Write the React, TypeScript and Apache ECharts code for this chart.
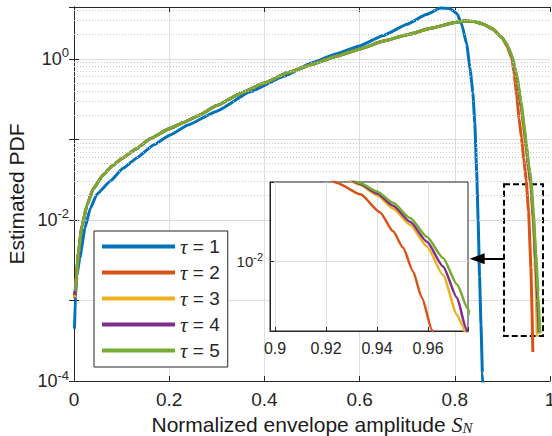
import React, { useEffect, useRef } from "react";
import * as echarts from "echarts";

type Pt = [number, number];

const FONT = '"Liberation Sans", Arial, Helvetica, sans-serif';
const SERIF = '"Liberation Serif", "Times New Roman", serif';
const INK = "#262626";

const seriesNames = ["τ = 1", "τ = 2", "τ = 3", "τ = 4", "τ = 5"];
const seriesColors = ["#0072BD", "#D95319", "#EDB120", "#7E2F8E", "#77AC30"];

// axis / tick data
const xMin = 0;
const xMax = 1;
const xStep = 0.2;
const yMin = 1e-4;
const yMax = 4.4;
const yLabelExponents = [-4, -2, 0];
const insetXMin = 0.898;
const insetXMax = 0.9757;
const insetXTicks = [0.9, 0.92, 0.94, 0.96];
const insetYMin = 0.00186;
const insetYMax = 0.0692;
const insetYLabelExponents = [-2];
const insetMinorY = [0.03162, 0.003162];

// zoom box (data coordinates of the main axes) and arrow
const zoomBoxX = [0.9034, 0.9853];
const zoomBoxY = [0.0278, 0.000363];
const arrowX = [0.9034, 0.847];
const arrowY = 0.0033;

// tau = 1
const tau1: Pt[] = [
  [0.001, 0.000447], [0.003, 0.00112], [0.006, 0.002], [0.012, 0.00331],
  [0.023, 0.00794], [0.034, 0.0138], [0.048, 0.0209], [0.076, 0.0302],
  [0.103, 0.0437], [0.132, 0.0589], [0.167, 0.0851], [0.2, 0.112],
  [0.24, 0.151], [0.3, 0.224], [0.37, 0.389], [0.44, 0.603],
  [0.5, 0.891], [0.55, 1.148], [0.6, 1.445], [0.65, 1.95],
  [0.7, 2.692], [0.74, 3.548], [0.77, 4.266], [0.79, 4.217],
  [0.805, 3.631], [0.815, 2.63], [0.825, 1.514], [0.832, 0.759],
  [0.838, 0.38], [0.842, 0.158], [0.846, 0.0398], [0.849, 0.01],
  [0.852, 0.002], [0.855, 0.000501], [0.858, 0.000126], [0.86, 0.0000631],
];

// common body of tau = 2..5 (curves overlap up to x = 0.9)
const bodyTau25: Pt[] = [
  [0.003, 0.00141], [0.005, 0.002], [0.009, 0.0038], [0.016, 0.00794],
  [0.027, 0.0151], [0.04, 0.024], [0.06, 0.0355], [0.08, 0.0468],
  [0.1, 0.0575], [0.13, 0.0759], [0.16, 0.102], [0.2, 0.135],
  [0.23, 0.162], [0.26, 0.195], [0.3, 0.263], [0.35, 0.372],
  [0.4, 0.501], [0.45, 0.676], [0.5, 0.851], [0.55, 1.072],
  [0.6, 1.318], [0.65, 1.66], [0.7, 1.995], [0.75, 2.399],
  [0.8, 2.818], [0.82, 2.951], [0.84, 2.917], [0.86, 2.692],
  [0.88, 2.344], [0.9, 1.82],
];

const tau2: Pt[] = [
  [0.001, 0.00107], ...bodyTau25,
  [0.91, 1.413], [0.92, 1.0], [0.925, 0.631], [0.93, 0.355], [0.935, 0.182],
  [0.94, 0.105], [0.945, 0.0562], [0.95, 0.0316], [0.955, 0.0126],
  [0.96, 0.00251], [0.964, 0.000229],
];
const tau3: Pt[] = [
  [0.001, 0.0011], ...bodyTau25,
  [0.91, 1.479], [0.92, 1.047], [0.93, 0.575], [0.94, 0.24], [0.945, 0.132],
  [0.95, 0.0759], [0.955, 0.0417], [0.96, 0.024], [0.965, 0.0089],
  [0.97, 0.002], [0.973, 0.000355],
];
const tau4: Pt[] = [
  [0.001, 0.00117], ...bodyTau25,
  [0.91, 1.479], [0.92, 1.072], [0.93, 0.603], [0.94, 0.251], [0.945, 0.145],
  [0.95, 0.0832], [0.955, 0.0457], [0.96, 0.0275], [0.965, 0.0107],
  [0.97, 0.00316], [0.974, 0.001], [0.977, 0.000398],
];
const tau5: Pt[] = [
  [0.001, 0.00132], ...bodyTau25,
  [0.91, 1.479], [0.92, 1.096], [0.93, 0.631], [0.94, 0.275], [0.945, 0.158],
  [0.95, 0.0891], [0.955, 0.0501], [0.96, 0.0316], [0.965, 0.0126],
  [0.97, 0.00398], [0.975, 0.00126], [0.979, 0.000389],
];

// inset (zoomed) readings
const insetTau2: Pt[] = [
  [0.922, 0.0741], [0.9243, 0.0676], [0.9335, 0.0513], [0.9412, 0.0331],
  [0.9463, 0.0209], [0.9502, 0.0141], [0.9541, 0.00794], [0.9576, 0.00417],
  [0.9616, 0.00191], [0.963, 0.00141],
];
const insetTau3: Pt[] = [
  [0.928, 0.0759], [0.9333, 0.0646], [0.94, 0.0501], [0.9463, 0.0363],
  [0.953, 0.0245], [0.9596, 0.01445], [0.9659, 0.00724], [0.9714, 0.00275],
  [0.9737, 0.00209], [0.975, 0.00158],
];
const insetTau4: Pt[] = [
  [0.929, 0.0759], [0.9333, 0.0661], [0.94, 0.0525], [0.9463, 0.0389],
  [0.953, 0.0263], [0.9596, 0.0162], [0.9659, 0.00891], [0.9714, 0.00417],
  [0.9749, 0.002], [0.976, 0.00158],
];
const insetTau5: Pt[] = [
  [0.93, 0.0759], [0.9333, 0.0676], [0.94, 0.055], [0.9463, 0.0417],
  [0.953, 0.0288], [0.9596, 0.0182], [0.9659, 0.01096], [0.9714, 0.00575],
  [0.9757, 0.00316], [0.978, 0.00219],
];

const mainData = [tau1, tau2, tau3, tau4, tau5];
const insetData = [insetTau2, insetTau3, insetTau4, insetTau5];

function minorLogValues(lo: number, hi: number): number[] {
  const out: number[] = [];
  for (let d = Math.floor(Math.log10(lo)); d <= Math.ceil(Math.log10(hi)); d++) {
    for (let k = 2; k <= 9; k++) {
      const v = k * Math.pow(10, d);
      if (v > lo && v < hi) out.push(v);
    }
  }
  return out;
}

function powLabel(exps: number[]) {
  return (v: number) => {
    const e = Math.log10(v);
    const r = Math.round(e);
    if (Math.abs(e - r) > 1e-6 || exps.indexOf(r) < 0) return "";
    return `{b|10}{e|${r}}`;
  };
}

function buildOption(): any {
  const minorMain = minorLogValues(yMin, yMax);
  const mainSeries = mainData.map((d, i) => ({
    name: seriesNames[i],
    type: "line",
    xAxisIndex: 0,
    yAxisIndex: 0,
    data: d,
    symbol: "none",
    showSymbol: false,
    smooth: 0.12,
    smoothMonotone: "x",
    clip: true,
    color: seriesColors[i],
    itemStyle: { color: seriesColors[i] },
    lineStyle: { color: seriesColors[i], width: 3 },
    z: 2,
    silent: true,
  }));
  const insetSeries = insetData.map((d, i) => ({
    name: "inset " + seriesNames[i + 1],
    type: "line",
    xAxisIndex: 2,
    yAxisIndex: 2,
    data: d,
    symbol: "none",
    showSymbol: false,
    smooth: 0.2,
    smoothMonotone: "x",
    clip: true,
    itemStyle: { color: seriesColors[i + 1] },
    lineStyle: { color: seriesColors[i + 1], width: 2.5 },
    z: 12,
    silent: true,
  }));

  return {
    animation: false,
    backgroundColor: "#ffffff",
    textStyle: { fontFamily: FONT },
    grid: [
      { left: 74, right: 2, top: 7, bottom: 55, show: false, outerBoundsMode: "none", containLabel: false },
      {
        left: 270, top: 182, width: 198, height: 149, show: true,
        backgroundColor: "#ffffff", borderColor: INK, borderWidth: 1, z: 10,
        outerBoundsMode: "none", containLabel: false,
      },
    ],
    legend: {
      data: seriesNames,
      orient: "vertical",
      left: 94,
      top: 231,
      itemWidth: 73,
      itemHeight: 4,
      itemGap: 5,
      icon: "rect",
      padding: [5, 8, 6, 8],
      borderColor: INK,
      borderWidth: 1,
      backgroundColor: "#ffffff",
      selectedMode: false,
      z: 20,
      formatter: (name: string) => `{t|τ}{n|${name.slice(1)}}`,
      textStyle: {
        fontSize: 19,
        lineHeight: 20,
        color: INK,
        rich: {
          t: { fontFamily: SERIF, fontStyle: "italic", fontSize: 21, color: INK },
          n: { fontFamily: FONT, fontSize: 19, color: INK },
        },
      },
    },
    xAxis: [
      {
        type: "value", gridIndex: 0, position: "bottom", min: xMin, max: xMax, interval: xStep,
        axisLine: { show: true, onZero: false, lineStyle: { color: INK, width: 1 } },
        axisTick: { show: true, inside: true, length: 5, lineStyle: { color: INK } },
        axisLabel: { fontSize: 19, margin: 9, color: INK, fontFamily: FONT },
        splitLine: { show: true, showMinLine: false, showMaxLine: false, lineStyle: { color: "#dedede", width: 1 } },
        name: "Normalized envelope amplitude {i|S}{s|N}",
        nameLocation: "middle",
        nameGap: 26,
        nameTextStyle: {
          fontSize: 21, color: "#1a1a1a", fontFamily: FONT,
          rich: {
            i: { fontSize: 22, fontFamily: SERIF, fontStyle: "italic", color: "#1a1a1a" },
            s: { fontSize: 15, fontFamily: SERIF, fontStyle: "italic", color: "#1a1a1a", padding: [7, 0, 0, 0] },
          },
        },
      },
      {
        type: "value", gridIndex: 0, position: "top", min: xMin, max: xMax, interval: xStep,
        axisLine: { show: true, onZero: false, lineStyle: { color: INK, width: 1 } },
        axisTick: { show: true, inside: true, length: 5, lineStyle: { color: INK } },
        axisLabel: { show: false },
        splitLine: { show: false },
      },
      {
        type: "value", gridIndex: 1, position: "bottom", min: insetXMin, max: insetXMax, splitNumber: 4,
        z: 11,
        axisLine: { show: true, onZero: false, lineStyle: { color: INK, width: 1 } },
        axisTick: { show: true, inside: true, length: 4, lineStyle: { color: INK } },
        axisLabel: {
          fontSize: 16, margin: 9, color: INK, fontFamily: FONT,
          formatter: (v: number) => {
            const t = insetXTicks.find((k) => Math.abs(k - v) < 1e-6);
            return t === undefined ? "" : String(t);
          },
        },
        splitLine: { show: true, showMinLine: false, showMaxLine: false, lineStyle: { color: "#dedede", width: 1 } },
      },
    ],
    yAxis: [
      {
        type: "log", logBase: 10, gridIndex: 0, position: "left", min: yMin, max: yMax,
        axisLine: { show: true, lineStyle: { color: INK, width: 1 } },
        axisTick: { show: true, inside: true, length: 5, lineStyle: { color: INK } },
        axisLabel: {
          margin: 5, color: INK, formatter: powLabel(yLabelExponents),
          rich: {
            b: { fontSize: 18, fontFamily: FONT, color: INK },
            e: { fontSize: 13, fontFamily: FONT, color: INK, padding: [0, 0, 12, 0] },
          },
        },
        splitLine: { show: true, showMinLine: false, showMaxLine: false, lineStyle: { color: "#dedede", width: 1 } },
        name: "Estimated PDF",
        nameLocation: "middle",
        nameGap: 37,
        nameTextStyle: { fontSize: 21, color: "#1a1a1a", fontFamily: FONT },
      },
      {
        type: "log", logBase: 10, gridIndex: 0, position: "right", min: yMin, max: yMax,
        axisLine: { show: true, lineStyle: { color: INK, width: 1 } },
        axisTick: { show: true, inside: true, length: 5, lineStyle: { color: INK } },
        axisLabel: { show: false },
        splitLine: { show: false },
      },
      {
        type: "log", logBase: 10, gridIndex: 1, position: "left", min: insetYMin, max: insetYMax,
        z: 11,
        axisLine: { show: true, lineStyle: { color: INK, width: 1 } },
        axisTick: { show: true, inside: true, length: 4, lineStyle: { color: INK } },
        axisLabel: {
          margin: 7, color: INK, formatter: powLabel(insetYLabelExponents),
          rich: {
            b: { fontSize: 15, fontFamily: FONT, color: INK },
            e: { fontSize: 11, fontFamily: FONT, color: INK, padding: [0, 0, 10, 0] },
          },
        },
        splitLine: { show: true, showMinLine: false, showMaxLine: false, lineStyle: { color: "#dedede", width: 1 } },
      },
    ],
    series: [
      {
        type: "line", xAxisIndex: 0, yAxisIndex: 0, data: [], z: 1, silent: true,
        markLine: {
          silent: true, symbol: ["none", "none"], label: { show: false },
          lineStyle: { color: "#c8c8c8", type: [1, 2], width: 1 },
          emphasis: { disabled: true },
          data: minorMain.map((v) => ({ yAxis: v })),
        },
      },
      ...mainSeries,
      {
        type: "line", xAxisIndex: 2, yAxisIndex: 2, data: [], z: 11, silent: true,
        markLine: {
          silent: true, symbol: ["none", "none"], label: { show: false },
          lineStyle: { color: "#c8c8c8", type: [1, 2], width: 1 },
          emphasis: { disabled: true },
          data: insetMinorY.map((v) => ({ yAxis: v })),
        },
      },
      ...insetSeries,
      {
        type: "line", xAxisIndex: 0, yAxisIndex: 0, data: [], z: 5, silent: true,
        markArea: {
          silent: true,
          itemStyle: { color: "rgba(0,0,0,0)", borderColor: "#000", borderWidth: 2, borderType: [6, 3] },
          emphasis: { disabled: true },
          label: { show: false },
          data: [[{ coord: [zoomBoxX[0], zoomBoxY[0]] }, { coord: [zoomBoxX[1], zoomBoxY[1]] }]],
        },
        markLine: {
          silent: true, label: { show: false },
          lineStyle: { color: "#000", type: "solid", width: 2 },
          emphasis: { disabled: true },
          data: [[
            { coord: [arrowX[0], arrowY], symbol: "none" },
            { coord: [arrowX[1], arrowY], symbol: "triangle", symbolSize: [11, 15] },
          ]],
        },
      },
    ],
  };
}

export default function App() {
  const ref = useRef<HTMLDivElement>(null);
  useEffect(() => {
    if (!ref.current) return;
    const chart = echarts.init(ref.current, null, { renderer: "svg" });
    chart.setOption(buildOption());
    return () => chart.dispose();
  }, []);
  return (
    <div
      ref={ref}
      style={{ position: "absolute", left: 0, top: 0, width: 552, height: 436, background: "#fff" }}
    />
  );
}
